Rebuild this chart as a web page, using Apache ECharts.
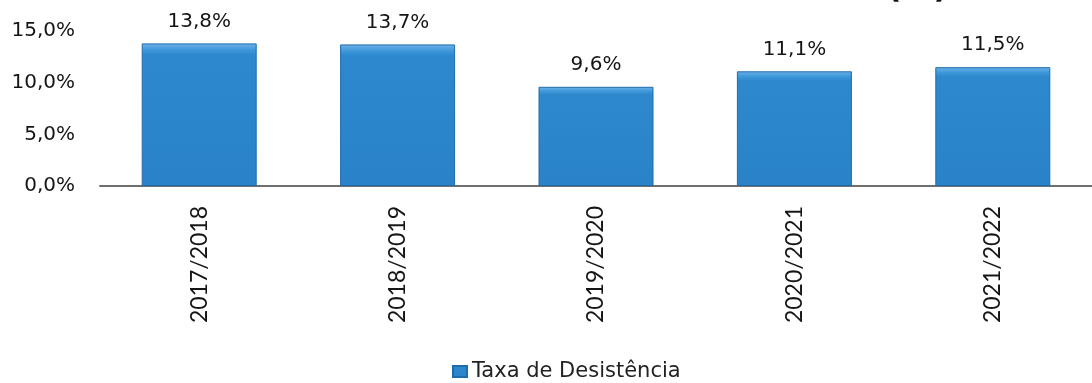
<!DOCTYPE html>
<html>
<head>
<meta charset="utf-8">
<script src="https://cdn.jsdelivr.net/npm/echarts@6/dist/echarts.min.js"></script>
<style>
  html, body { margin: 0; padding: 0; background: #ffffff; }
  #chart { width: 1092px; height: 383px; }
</style>
</head>
<body>
<div id="chart"></div>
<script>
// School years and dropout rate (%)
const categories = ['2017/2018', '2018/2019', '2019/2020', '2020/2021', '2021/2022'];
const dropoutRate = [13.8, 13.7, 9.6, 11.1, 11.5];
const seriesName = 'Taxa de Desistência';
const titleText = 'Taxa de Desistência (%)';
const yMin = 0;
const yMax = 15;
const yStep = 5;

// Portuguese number formatting: comma as decimal separator
const pct = v => v.toFixed(1).replace('.', ',') + '%';

const chart = echarts.init(document.getElementById('chart'), null, { renderer: 'canvas' });

const barFill = new echarts.graphic.LinearGradient(0, 0, 0, 1, [
  { offset: 0, color: '#6db3e8' },
  { offset: 0.045, color: '#3f98da' },
  { offset: 0.08, color: '#2d88cd' },
  { offset: 1, color: '#2a83c8' }
]);

chart.setOption({
  animation: false,
  backgroundColor: '#ffffff',
  title: {
    text: titleText,
    right: 144,
    top: -27,
    padding: 0,
    textStyle: {
      fontFamily: 'DejaVu Sans',
      fontSize: 32,
      fontWeight: 'bold',
      color: '#111111'
    }
  },
  grid: {
    left: 100,
    right: -13,
    top: 31,
    bottom: 197,
    containLabel: false
  },
  legend: {
    data: [seriesName],
    left: 447,
    top: 356,
    icon: 'rect',
    itemWidth: 14,
    itemHeight: 11,
    itemGap: 7,
    textStyle: {
      fontFamily: 'DejaVu Sans',
      fontSize: 21,
      color: '#222222'
    }
  },
  xAxis: {
    type: 'category',
    data: categories,
    axisLine: { show: true, lineStyle: { color: '#6f6f6f', width: 2 } },
    axisTick: { show: false },
    axisLabel: {
      rotate: 90,
      margin: 20,
      interval: 0,
      fontFamily: 'Lato, sans-serif',
      fontSize: 23,
      color: '#151515'
    }
  },
  yAxis: {
    type: 'value',
    min: yMin,
    max: yMax,
    interval: yStep,
    axisLine: { show: false },
    axisTick: { show: false },
    splitLine: { show: false },
    axisLabel: {
      margin: 25,
      formatter: v => pct(v),
      fontFamily: 'DejaVu Sans',
      fontSize: 20,
      color: '#151515'
    }
  },
  series: [{
    name: seriesName,
    type: 'bar',
    data: dropoutRate,
    barWidth: 115,
    itemStyle: {
      color: barFill,
      borderColor: '#1f6cab',
      borderWidth: 1
    },
    label: {
      show: true,
      position: 'top',
      distance: 12,
      formatter: p => pct(p.value),
      fontFamily: 'DejaVu Sans',
      fontSize: 20,
      color: '#151515'
    }
  }]
});
</script>
</body>
</html>
